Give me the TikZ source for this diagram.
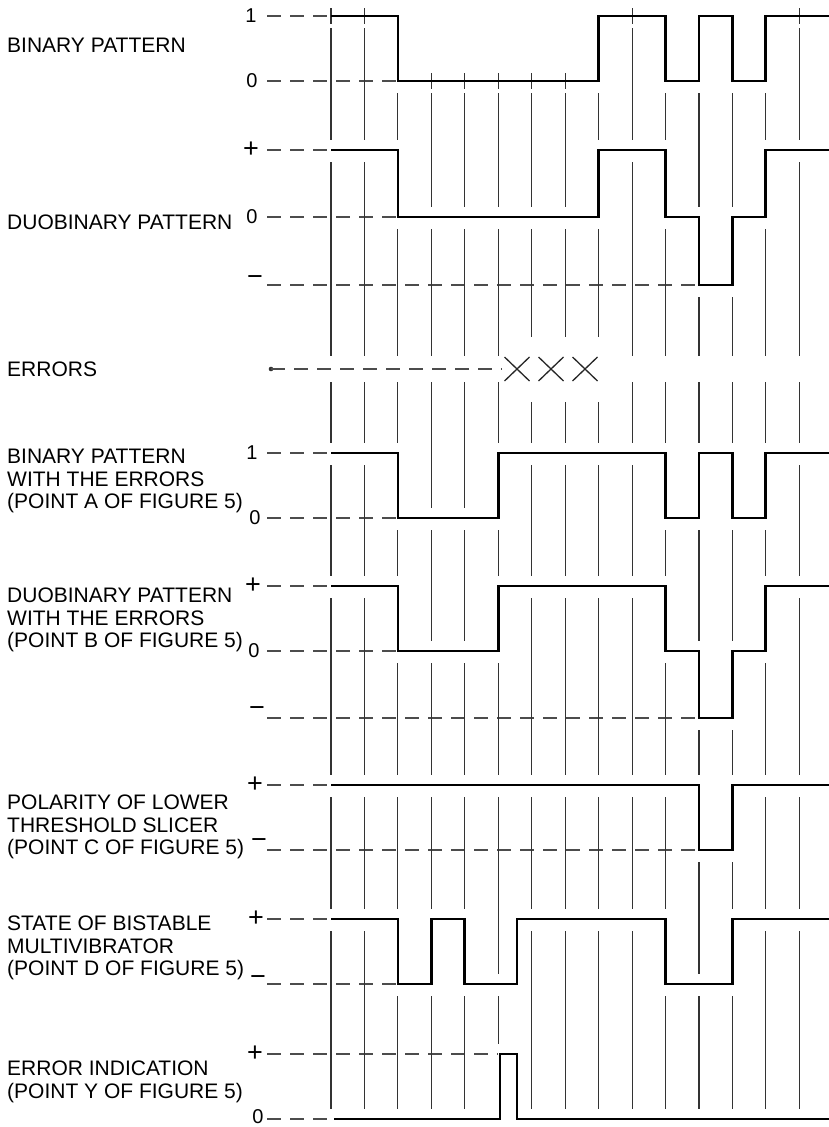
\documentclass[tikz,border=0pt]{standalone}
\usepackage{fontspec}
\setmainfont{Liberation Sans}
\newcommand\plusteken{{\fontsize{27}{27}\selectfont +}}
\newcommand\minteken{{\fontsize{27}{27}\selectfont −}}
\begin{document}
\begin{tikzpicture}[x=1pt, y=-1pt,
    golf/.style={line width=2.8pt, black, line join=miter},
    raster/.style={line width=1.1pt, black!80},
    niveau/.style={line width=1.1pt, black!70, dash pattern=on 14pt off 9pt},
    kruis/.style={line width=1.3pt, black!85},
    rijtekst/.style={anchor=west, align=left, inner sep=0pt, font=\fontsize{21}{22.5}\selectfont},
    teken/.style={inner sep=0pt, font=\fontsize{20}{20}\selectfont}]

    % Niveaus per rij (onder- en bovenkant bij elke rasterlijn)
    \def\lowA{{16,16,81,81,81,81,81,81,81,16,81,81,81,81,16}}
    \def\highB{{150,150,150,217,217,217,217,217,150,150,150,217,217,150,150}}
    \def\lowB{{150,150,217,217,217,217,217,217,217,150,217,285,285,217,150}}
    \def\highC{{453,453,453,518,518,453,453,453,453,453,453,453,453,453,453}}
    \def\lowC{{453,453,518,518,518,518,453,453,453,453,518,518,518,518,453}}
    \def\highD{{586,586,586,651,651,586,586,586,586,586,586,651,651,586,586}}
    \def\lowD{{586,586,651,651,651,651,586,586,586,586,651,718,718,651,586}}
    \def\highE{{785,785,785,785,785,785,785,785,785,785,785,785,785,785,785}}
    \def\lowE{{785,785,785,785,785,785,785,785,785,785,785,850,850,785,785}}
    \def\highF{{919,919,919,919,919,984,919,919,919,919,919,984,919,919,919}}
    \def\lowF{{919,919,984,984,984,984,919,919,919,919,984,984,984,919,919}}
    \def\highG{{1119,1119,1119,1119,1119,1054,1119,1119,1119,1119,1119,1119,1119,1119,1119}}

    % Kader
    \fill[white] (0,0) rectangle (828,1127);
    \useasboundingbox (0,0) rectangle (828,1127);

    % Opschriften
    \node[rijtekst] (binlbl) at (7,45) {BINARY PATTERN};
    \node[rijtekst] (duolbl) at (7,222) {DUOBINARY PATTERN};
    \node[rijtekst] (errlbl) at (7,369) {ERRORS};
    \node[rijtekst] (binerrlbl) at (7,481) {BINARY PATTERN\\WITH THE ERRORS\\(POINT A OF FIGURE 5)};
    \node[rijtekst] (duoerrlbl) at (7,620) {DUOBINARY PATTERN\\WITH THE ERRORS\\(POINT B OF FIGURE 5)};
    \node[rijtekst] (pollbl) at (7,827) {POLARITY OF LOWER\\THRESHOLD SLICER\\(POINT C OF FIGURE 5)};
    \node[rijtekst] (statelbl) at (7,948) {STATE OF BISTABLE\\MULTIVIBRATOR\\(POINT D OF FIGURE 5)};
    \node[rijtekst] (erridlbl) at (7,1082) {ERROR INDICATION\\(POINT Y OF FIGURE 5)};

    % Niveautekens en stippellijnen
    \foreach \ly/\lx/\dy/\sym/\lend [count=\i] in {16/251/0/1/331, 81/252/0/0/398,
        150/251/0/\plusteken/331, 217/252/0/0/398, 285/255/-4/\minteken/699,
        453/252/0/1/331, 518/255/0/0/398,
        586/253/0/\plusteken/331, 651/254/0/0/398, 718/257/-6/\minteken/699,
        785/255/0/\plusteken/331, 850/259/-6/\minteken/699,
        919/256/0/\plusteken/331, 984/258/-3/\minteken/398,
        1054/255/0/\plusteken/498, 1119/258/-2/0/334} {
        \node[teken] (niv\i) at (\lx,{\ly+\dy}) {\sym};
        \draw[niveau] (267,\ly) -- (\lend,\ly);
    }

    % Foutenlijn
    \fill[black!80] (271,369) circle (2.3pt);
    \draw[niveau] (271,369) -- (502,369);
    \foreach \c in {517,551,585}
        \draw[kruis] ({\c-12.5},357) -- ({\c+12.5},381) ({\c-12.5},381) -- ({\c+12.5},357);

    \begin{scope}[shift={(331,0)}, x=33.45pt]
        % Rasterlijnen
        \foreach \k in {0,...,14} {
            \foreach \onder/\boven in {\lowA/\highB, \lowC/\highD, \lowD/\highE, \lowE/\highF, \lowF/\highG} {
                \pgfmathsetmacro\ya{\onder[\k]+12}
                \pgfmathsetmacro\yb{\boven[\k]-10}
                \draw[raster] (\k,\ya) -- (\k,\yb);
            }
            \pgfmathsetmacro\ya{\lowB[\k]+12}
            \pgfmathsetmacro\yb{\highC[\k]-10}
            \pgfmathsetmacro\ga{(\k>5 && \k<9) ? 337 : 356}
            \pgfmathsetmacro\gb{(\k>5 && \k<9) ? 402 : 382}
            \draw[raster] (\k,\ya) -- (\k,\ga) (\k,\gb) -- (\k,\yb);
        }
        \foreach \k in {0,1,3,4,5,6,7,9,14} {
            \pgfmathsetmacro\yt{\lowA[\k]}
            \draw[raster] (\k,{\yt-8}) -- (\k,{\yt+8});
        }

        % Golfvormen
        \draw[golf] (0,16) -- (2,16) -- (2,81) -- (8,81) -- (8,16) -- (10,16) -- (10,81) -- (11,81)
            -- (11,16) -- (12,16) -- (12,81) -- (13,81) -- (13,16) -- (14.9,16);
        \draw[golf] (0,150) -- (2,150) -- (2,217) -- (8,217) -- (8,150) -- (10,150) -- (10,217) -- (11,217)
            -- (11,285) -- (12,285) -- (12,217) -- (13,217) -- (13,150) -- (14.9,150);
        \draw[golf] (0,453) -- (2,453) -- (2,518) -- (5,518) -- (5,453) -- (10,453) -- (10,518) -- (11,518)
            -- (11,453) -- (12,453) -- (12,518) -- (13,518) -- (13,453) -- (14.9,453);
        \draw[golf] (0,586) -- (2,586) -- (2,651) -- (5,651) -- (5,586) -- (10,586) -- (10,651) -- (11,651)
            -- (11,718) -- (12,718) -- (12,651) -- (13,651) -- (13,586) -- (14.9,586);
        \draw[golf] (0,785) -- (11,785) -- (11,850) -- (12,850) -- (12,785) -- (14.9,785);
        \draw[golf] (0,919) -- (2,919) -- (2,984) -- (3,984) -- (3,919) -- (4,919) -- (4,984) -- (5.56,984)
            -- (5.56,919) -- (10,919) -- (10,984) -- (12,984) -- (12,919) -- (14.9,919);
        \draw[golf] (0.1,1119) -- (5.05,1119) -- (5.05,1054) -- (5.56,1054) -- (5.56,1119) -- (14.9,1119);
    \end{scope}
\end{tikzpicture}
\end{document}
